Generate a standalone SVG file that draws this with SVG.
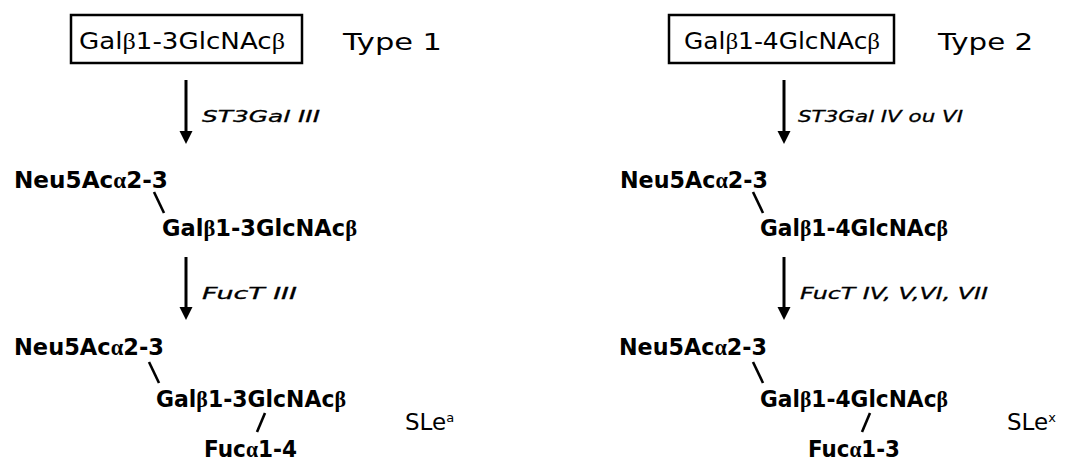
<svg xmlns="http://www.w3.org/2000/svg" width="1083" height="461" viewBox="0 0 1083 461">
<style>
.t{font-family:"DejaVu Sans","Liberation Sans",sans-serif;font-size:23px;fill:#000}
.b{font-weight:bold}
.g{font-family:"Liberation Serif","DejaVu Serif",serif}
.e{font-family:"DejaVu Sans","Liberation Sans",sans-serif;font-size:16px;font-style:italic;fill:#000;stroke:#000;stroke-width:0.3}
.box{fill:#fff;stroke:#000;stroke-width:2.5}
.ln{stroke:#000;stroke-width:3;fill:none}
.sl{stroke:#000;stroke-width:2.6;fill:none}
.hd{fill:#000}
</style>
<rect width="1083" height="461" fill="#fff"/>
<!-- Type 1 column -->
<g id="type1-start">
<rect class="box" x="71" y="15" width="231" height="48"/>
<text class="t" x="79" y="49" textLength="206" lengthAdjust="spacingAndGlyphs">Gal<tspan class="g">β</tspan>1-3GlcNAc<tspan class="g">β</tspan></text>
</g>
<g id="type1-label"><text class="t" x="343" y="50" textLength="99" lengthAdjust="spacingAndGlyphs">Type 1</text></g>
<g id="type1-sialyl">
<text class="t b" x="14" y="188" textLength="154" lengthAdjust="spacingAndGlyphs">Neu5Ac<tspan class="g">α</tspan>2-3</text>
<text class="t b" x="162" y="236" textLength="195" lengthAdjust="spacingAndGlyphs">Gal<tspan class="g">β</tspan>1-3GlcNAc<tspan class="g">β</tspan></text>
</g>
<g id="type1-slea">
<text class="t b" x="14" y="355" textLength="150" lengthAdjust="spacingAndGlyphs">Neu5Ac<tspan class="g">α</tspan>2-3</text>
<text class="t b" x="156" y="407" textLength="190" lengthAdjust="spacingAndGlyphs">Gal<tspan class="g">β</tspan>1-3GlcNAc<tspan class="g">β</tspan></text>
<text class="t b" x="204" y="457" textLength="93" lengthAdjust="spacingAndGlyphs">Fuc<tspan class="g">α</tspan>1-4</text>
</g>
<g id="slea-label"><text class="t" x="405" y="430">SLe<tspan font-size="13" dy="-8">a</tspan></text></g>
<!-- Type 2 column -->
<g id="type2-start">
<rect class="box" x="669" y="15" width="225" height="48"/>
<text class="t" x="684" y="49" textLength="196" lengthAdjust="spacingAndGlyphs">Gal<tspan class="g">β</tspan>1-4GlcNAc<tspan class="g">β</tspan></text>
</g>
<g id="type2-label"><text class="t" x="938" y="50" textLength="95" lengthAdjust="spacingAndGlyphs">Type 2</text></g>
<g id="type2-sialyl">
<text class="t b" x="620" y="188" textLength="148" lengthAdjust="spacingAndGlyphs">Neu5Ac<tspan class="g">α</tspan>2-3</text>
<text class="t b" x="760" y="236" textLength="188" lengthAdjust="spacingAndGlyphs">Gal<tspan class="g">β</tspan>1-4GlcNAc<tspan class="g">β</tspan></text>
</g>
<g id="type2-slex">
<text class="t b" x="619" y="355" textLength="148" lengthAdjust="spacingAndGlyphs">Neu5Ac<tspan class="g">α</tspan>2-3</text>
<text class="t b" x="760" y="407" textLength="188" lengthAdjust="spacingAndGlyphs">Gal<tspan class="g">β</tspan>1-4GlcNAc<tspan class="g">β</tspan></text>
<text class="t b" x="808" y="457" textLength="92" lengthAdjust="spacingAndGlyphs">Fuc<tspan class="g">α</tspan>1-3</text>
</g>
<g id="slex-label"><text class="t" x="1007" y="430">SLe<tspan font-size="13" dy="-8">x</tspan></text></g>
<!-- connectors -->
<g id="connectors">
<line class="ln" x1="186" y1="80" x2="186" y2="133"/>
<polygon class="hd" points="179.5,131 192.5,131 186,144"/>
<line class="ln" x1="186" y1="257" x2="186" y2="309"/>
<polygon class="hd" points="179.5,307 192.5,307 186,320"/>
<line class="ln" x1="784" y1="80" x2="784" y2="133"/>
<polygon class="hd" points="777.5,131 790.5,131 784,144"/>
<line class="ln" x1="784" y1="257" x2="784" y2="309"/>
<polygon class="hd" points="777.5,307 790.5,307 784,320"/>
<line class="sl" x1="154" y1="192" x2="164" y2="213"/>
<line class="sl" x1="149" y1="362" x2="159" y2="383"/>
<line class="sl" x1="265" y1="413" x2="257" y2="432"/>
<line class="sl" x1="753" y1="192" x2="763" y2="213"/>
<line class="sl" x1="753" y1="362" x2="763" y2="383"/>
<line class="sl" x1="870" y1="413" x2="862" y2="432"/>
</g>
<g id="enzyme-labels">
<text class="e" x="202" y="122" textLength="118" lengthAdjust="spacingAndGlyphs">ST3Gal III</text>
<text class="e" x="202" y="299" textLength="95" lengthAdjust="spacingAndGlyphs">FucT III</text>
<text class="e" x="798" y="122" textLength="165" lengthAdjust="spacingAndGlyphs">ST3Gal IV ou VI</text>
<text class="e" x="800" y="299" textLength="188" lengthAdjust="spacingAndGlyphs">FucT IV, V,VI, VII</text>
</g>
</svg>
